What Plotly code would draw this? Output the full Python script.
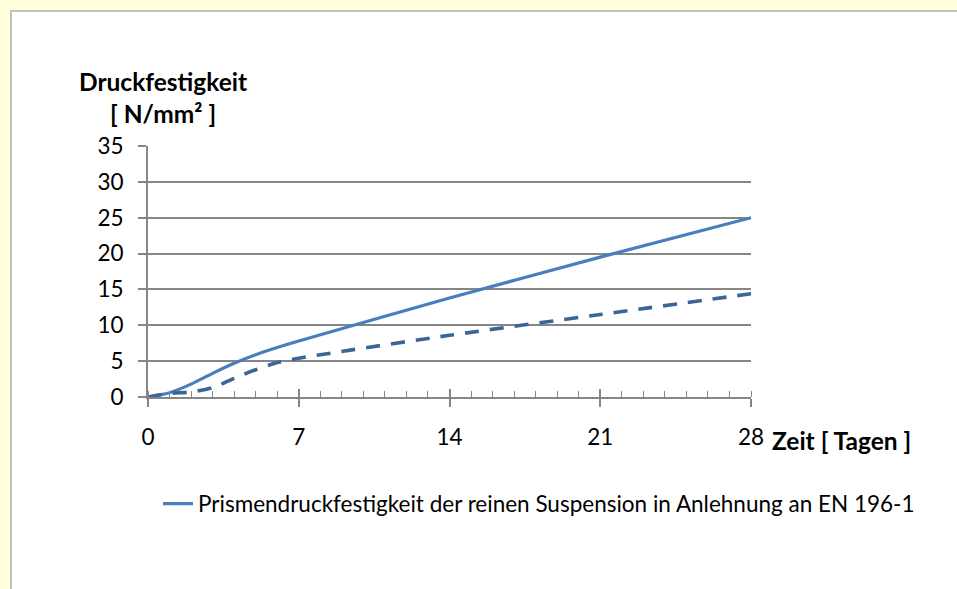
import plotly.graph_objects as go

# ---- data ----
days = [0, 1, 2, 3, 4, 5, 6, 7, 14, 21, 28]
prismen_rein = [0, 0.6, 1.8, 3.3, 4.7, 5.9, 6.9, 7.8, 13.8, 19.5, 25.0]
zweite_reihe = [0, 0.5, 0.7, 1.3, 2.6, 3.8, 4.8, 5.4, 8.6, 11.5, 14.4]
x_ticks = [0, 7, 14, 21, 28]
y_ticks = [0, 5, 10, 15, 20, 25, 30, 35]
legend_name = "Prismendruckfestigkeit der reinen Suspension in Anlehnung an EN 196-1"
y_title = "<b>Druckfestigkeit</b><br><b>[ N/mm² ]</b>"
x_title = "<b>Zeit [ Tagen ]</b>"

FONT = "Lato"
FS = 22.5
FSB = 24.5
GRID = "#868686"

# plot-area geometry (pixels)
W, H = 957, 589
L, R, T, B = 148, 751, 146, 397
pw, ph = R - L, B - T


def px(x):
    return (x - L) / pw


def py(y):
    return (B - y) / ph


fig = go.Figure()
fig.add_trace(go.Scatter(
    x=days, y=prismen_rein, mode="lines", name=legend_name,
    line=dict(color="#4A7EBB", width=3.2, shape="spline", smoothing=0.8),
))
fig.add_trace(go.Scatter(
    x=days, y=zweite_reihe, mode="lines", showlegend=False,
    line=dict(color="#3A6596", width=3.6, shape="spline", smoothing=0.8, dash="14px,11px"),
))

fig.update_layout(
    width=W, height=H,
    margin=dict(l=L, r=W - R, t=T, b=H - B),
    paper_bgcolor="#FFFFDC",
    plot_bgcolor="rgba(0,0,0,0)",
    font=dict(family=FONT, size=FS, color="black"),
    xaxis=dict(
        range=[0, 28], tickvals=x_ticks, ticks="outside", ticklen=8, tickwidth=1.6,
        tickcolor=GRID, showline=True, linecolor=GRID, linewidth=1.8,
        showgrid=False, zeroline=False, ticklabelstandoff=11,
        minor=dict(dtick=1, ticks="inside", ticklen=6, tickcolor=GRID, tickwidth=1.4, showgrid=False),
    ),
    xaxis2=dict(
        range=[0, 28], tickvals=x_ticks, ticks="inside", ticklen=8, tickwidth=1.6,
        tickcolor=GRID, overlaying="x", anchor="y", side="bottom",
        showticklabels=False, showgrid=False, zeroline=False, showline=False,
    ),
    yaxis=dict(
        range=[0, 35], tickvals=y_ticks, ticks="outside", ticklen=8, tickwidth=1.6,
        tickcolor=GRID, showline=True, linecolor=GRID, linewidth=1.8,
        showgrid=True, gridcolor=GRID, gridwidth=1.6, zeroline=False,
        ticklabelstandoff=10,
    ),
    legend=dict(
        orientation="h", x=px(158), y=py(504), xanchor="left", yanchor="middle",
        font=dict(family=FONT, size=FS), bgcolor="rgba(0,0,0,0)",
    ),
    shapes=[
        dict(type="rect", xref="paper", yref="paper",
             x0=px(11), x1=px(1200), y0=py(1000), y1=py(11),
             fillcolor="white", line=dict(color="#C0C0C0", width=2), layer="below"),
    ],
    annotations=[
        dict(text=y_title, xref="paper", yref="paper", x=px(163), y=py(98),
             xanchor="center", yanchor="middle", showarrow=False, align="center",
             font=dict(family=FONT, size=FSB)),
        dict(text=x_title, xref="paper", yref="paper", x=px(770), y=py(440),
             xanchor="left", yanchor="middle", showarrow=False,
             font=dict(family=FONT, size=FSB)),
    ],
)
fig.add_trace(go.Scatter(x=[0], y=[None], xaxis="x2", showlegend=False, hoverinfo="skip"))

fig.write_html("out.html", config={"displayModeBar": False},
               post_script="document.body.style.margin='0';")
